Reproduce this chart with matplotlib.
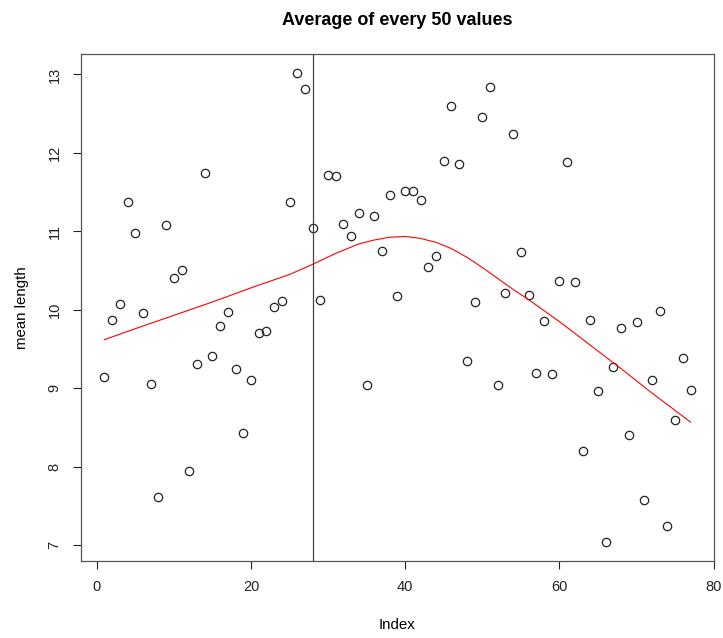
import matplotlib.pyplot as plt

plt.rcParams['font.family'] = ['Liberation Sans', 'DejaVu Sans']

# mean length of every block of 50 values, indexed 1..77
mean_length = [9.15, 9.87, 10.07, 11.38, 10.98, 9.96, 9.05, 7.62, 11.08, 10.41,
               10.51, 7.95, 9.31, 11.74, 9.41, 9.79, 9.97, 9.25, 8.43, 9.10,
               9.71, 9.73, 10.03, 10.11, 11.38, 13.02, 12.82, 11.04, 10.13, 11.72,
               11.70, 11.10, 10.94, 11.24, 9.04, 11.20, 10.75, 11.46, 10.17, 11.52,
               11.52, 11.40, 10.54, 10.68, 11.90, 12.60, 11.86, 9.35, 10.10, 12.46,
               12.84, 9.04, 10.21, 12.24, 10.74, 10.19, 9.20, 9.86, 9.18, 10.37,
               11.88, 10.36, 8.20, 9.87, 8.96, 7.04, 9.27, 9.77, 8.40, 9.85,
               7.58, 9.10, 9.99, 7.24, 8.60, 9.38, 8.98]
index = list(range(1, len(mean_length) + 1))

# smoothed curve
smooth_x = [1, 5, 10, 15, 20, 25, 28, 31, 34, 36, 38, 40, 42, 44, 46, 48, 50,
            52, 54, 56, 60, 64, 68, 72, 77]
smooth_y = [9.62, 9.76, 9.93, 10.10, 10.28, 10.45, 10.58, 10.72, 10.84, 10.89,
            10.925, 10.935, 10.91, 10.86, 10.78, 10.67, 10.54, 10.40, 10.26,
            10.13, 9.85, 9.55, 9.25, 8.94, 8.57]

vline_x = 28

fig = plt.figure(figsize=(7.23, 6.38), dpi=100)
ax = fig.add_axes([0.112, 0.1207, 0.8755, 0.7947])

ax.plot(index, mean_length, 'o', mfc='none', mec='#222222', ms=6, mew=0.9)
ax.plot(smooth_x, smooth_y, color='red', lw=0.8)
ax.axvline(vline_x, color='#444444', lw=0.9)

ax.set_xlim(-2.04, 80.04)
ax.set_ylim(6.80, 13.26)
ax.set_xticks([0, 20, 40, 60, 80])
ax.set_yticks([7, 8, 9, 10, 11, 12, 13])
ax.tick_params(direction='out', length=6, width=0.8, labelsize=10.5,
               colors='#222222', pad=8)
for lab in ax.get_yticklabels():
    lab.set_rotation(90)
    lab.set_va('center')
for s in ax.spines.values():
    s.set_color('#555555')
    s.set_linewidth(0.9)

ax.set_title('Average of every 50 values', fontsize=13, fontweight='bold', pad=21)
ax.set_xlabel('Index', fontsize=10.8, labelpad=17)
ax.set_ylabel('mean length', fontsize=10.8, labelpad=13)

fig.savefig('out.png', dpi=100)
